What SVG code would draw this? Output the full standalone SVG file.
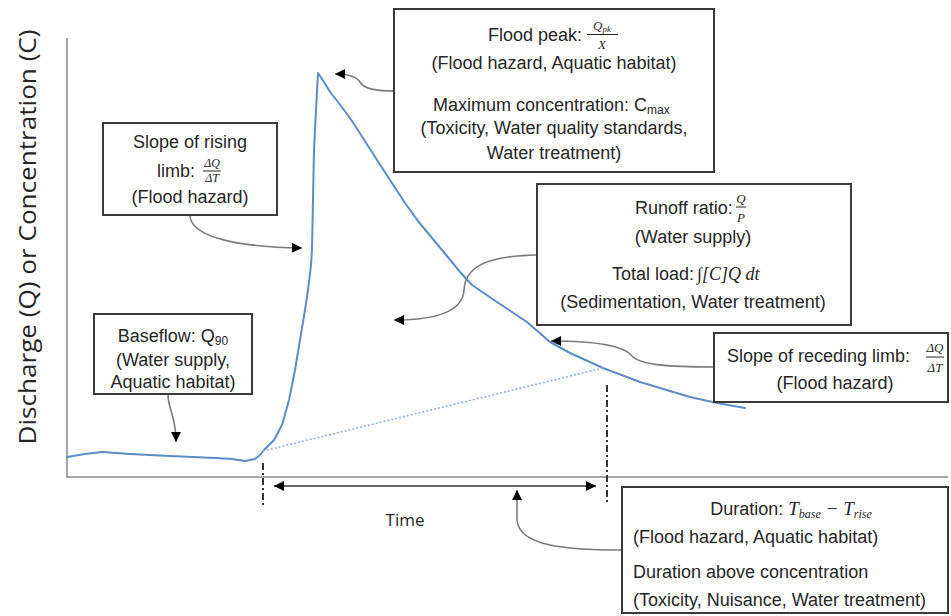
<svg xmlns="http://www.w3.org/2000/svg" width="951" height="616" viewBox="0 0 951 616">
<style>
.box{fill:#fff;stroke:#3a3a3a;stroke-width:2}
.t{font-family:"Liberation Sans",Arial,sans-serif;font-size:18px;fill:#262626}
.m{font-family:"Liberation Serif","Times New Roman",serif;font-style:italic;fill:#262626}
.fr{stroke:#262626;stroke-width:1}
.con{fill:none;stroke:#7a7a7a;stroke-width:1.6}
.axis{fill:none;stroke:#a6a6a6;stroke-width:2}
.curve{fill:none;stroke:#5b8dc8;stroke-width:2;stroke-linejoin:round;stroke-linecap:round}
.dd{fill:none;stroke:#333;stroke-width:2;stroke-dasharray:7 3 2 3}
</style>
<defs>
<marker id="ah" viewBox="0 0 10 10" refX="10" refY="5" markerWidth="11" markerHeight="10" markerUnits="userSpaceOnUse" orient="auto">
<path d="M0,0 L10,5 L0,10 z" fill="#000"/>
</marker>
<marker id="ahs" viewBox="0 0 10 10" refX="0" refY="5" markerWidth="11" markerHeight="10" markerUnits="userSpaceOnUse" orient="auto">
<path d="M10,0 L0,5 L10,10 z" fill="#000"/>
</marker>
</defs>
<rect width="951" height="616" fill="#fff"/>

<g id="axes">
<path class="axis" d="M67,38 L67,477 L948,477"/>
<text x="0" y="0" transform="translate(36,237) rotate(-90)" text-anchor="middle" font-family="'Open Sans',Calibri,sans-serif" font-size="24" fill="#262626" textLength="415" lengthAdjust="spacingAndGlyphs">Discharge (Q)  or Concentration (C)</text>
<text x="405" y="526" text-anchor="middle" font-family="'Open Sans',Calibri,sans-serif" font-size="17" fill="#262626">Time</text>
</g>

<g id="hydrograph">
<path class="curve" d="M67,457 L85,454 L102,452 L130,454 L170,456 L215,458 L232,459 L245,461 L255,459 L260,455 L264,450 L268,446 L274,440 L282,425 L289,400 L295,370 L300,340 L305,310 L308,290 L311,265 L312,250 L313,200 L314,150 L316,110 L318,73 L324,82 L330,92 L338,102 L350,118 L363,138 L377,160 L390,180 L405,203 L418,221 L432,238 L447,256 L460,272 L472,285 L497,302 L527,322 L550,342 L570,353 L603,368 L640,382 L690,397 L717,403 L745,408"/>
<path d="M263,451 L603,368" fill="none" stroke="#8fb3e0" stroke-width="1.6" stroke-dasharray="2 2"/>
<path class="dd" d="M263,463 L263,508"/>
<path class="dd" d="M607,385 L607,505"/>
<path d="M274,486 L596,486" fill="none" stroke="#333" stroke-width="1.6" marker-start="url(#ahs)" marker-end="url(#ah)"/>
</g>

<g id="connectors">
<path class="con" d="M396,91 C375,91 364,89 360,82 C356,76 348,74 335,74" marker-end="url(#ah)"/>
<path class="con" d="M190,216 C192,238 240,247 302,248" marker-end="url(#ah)"/>
<path class="con" d="M537,255 C480,256 465,270 464,290 C463,310 440,320 394,320" marker-end="url(#ah)"/>
<path class="con" d="M168,394 C168,410 176,415 176,442" marker-end="url(#ah)"/>
<path class="con" d="M714,367 C670,367 640,365 632,356 C625,347 600,341 551,341" marker-end="url(#ah)"/>
<path class="con" d="M622,550 C565,550 519,546 517,520 L517,490" marker-end="url(#ah)"/>
</g>

<g id="flood-peak">
<rect class="box" x="394" y="9" width="320" height="163"/>
<text class="t" x="488" y="41">Flood peak:</text>
<text class="m" x="602" y="30" font-size="13" text-anchor="middle">Q<tspan font-size="9" dy="2">pk</tspan></text>
<line class="fr" x1="587" y1="34.5" x2="618" y2="34.5"/>
<text class="m" x="602" y="49" font-size="13" text-anchor="middle">X</text>
<text class="t" x="554" y="69" text-anchor="middle">(Flood hazard, Aquatic habitat)</text>
<text class="t" x="433" y="111">Maximum concentration: C<tspan font-size="12" dy="3">max</tspan></text>
<text class="t" x="554" y="134" text-anchor="middle">(Toxicity, Water quality standards,</text>
<text class="t" x="554" y="159" text-anchor="middle">Water treatment)</text>
</g>

<g id="rising-limb">
<rect class="box" x="103" y="123" width="174" height="92"/>
<text class="t" x="190" y="148" text-anchor="middle">Slope of rising</text>
<text class="t" x="157" y="177">limb:</text>
<text class="m" x="212" y="167" font-size="12" text-anchor="middle">ΔQ</text>
<line class="fr" x1="203" y1="171" x2="221" y2="171"/>
<text class="m" x="212" y="182" font-size="12" text-anchor="middle">ΔT</text>
<text class="t" x="190" y="203" text-anchor="middle">(Flood hazard)</text>
</g>

<g id="runoff">
<rect class="box" x="537" y="184" width="314" height="141"/>
<text class="t" x="635" y="214">Runoff ratio:</text>
<text class="m" x="741" y="203" font-size="13" text-anchor="middle">Q</text>
<line class="fr" x1="736" y1="207" x2="746" y2="207"/>
<text class="m" x="741" y="222" font-size="13" text-anchor="middle">P</text>
<text class="t" x="693" y="243" text-anchor="middle">(Water supply)</text>
<text class="t" x="612" y="280">Total load:</text>
<text class="m" x="697" y="280" font-size="18">∫[C]Q dt</text>
<text class="t" x="693" y="308" text-anchor="middle">(Sedimentation,  Water treatment)</text>
</g>

<g id="baseflow">
<rect class="box" x="94" y="314" width="158" height="80"/>
<text class="t" x="173" y="342" text-anchor="middle">Baseflow: Q<tspan font-size="12" dy="3">90</tspan></text>
<text class="t" x="173" y="366" text-anchor="middle">(Water supply,</text>
<text class="t" x="173" y="388" text-anchor="middle">Aquatic habitat)</text>
</g>

<g id="receding-limb">
<rect class="box" x="714" y="333" width="234" height="69"/>
<text class="t" x="727" y="362">Slope of receding limb:</text>
<text class="m" x="935" y="352" font-size="13" text-anchor="middle">ΔQ</text>
<line class="fr" x1="926" y1="357" x2="944" y2="357"/>
<text class="m" x="935" y="372" font-size="13" text-anchor="middle">ΔT</text>
<text class="t" x="835" y="389" text-anchor="middle">(Flood hazard)</text>
</g>

<g id="duration">
<rect class="box" x="622" y="487" width="326" height="126"/>
<text class="t" x="791" y="515" text-anchor="middle">Duration: <tspan class="m" font-size="19">T</tspan><tspan class="m" font-size="12" dy="3">base</tspan><tspan class="m" font-size="19" dy="-3"> − T</tspan><tspan class="m" font-size="12" dy="3">rise</tspan></text>
<text class="t" x="633" y="543">(Flood hazard, Aquatic habitat)</text>
<text class="t" x="633" y="578">Duration above concentration</text>
<text class="t" x="633" y="606">(Toxicity, Nuisance, Water treatment)</text>
</g>
</svg>
